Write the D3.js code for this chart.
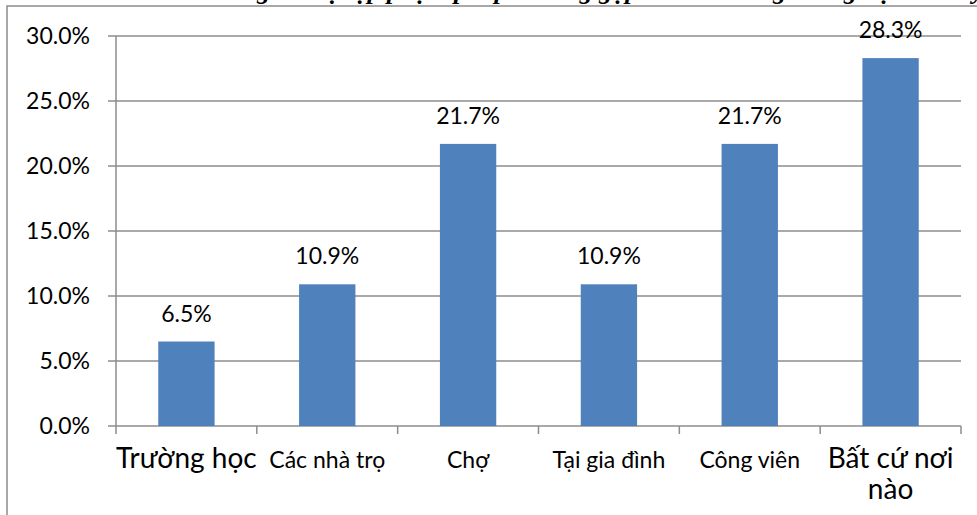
<!DOCTYPE html>
<meta charset="utf-8">
<style>
body { margin: 0; background: #fff; }
svg { display: block; }
.grid line { stroke: #8c8c8c; stroke-width: 1.5; }
.lbl { font-family: Lato, "Open Sans", sans-serif; fill: #000; }
</style>
<body>
<script src="https://cdn.jsdelivr.net/npm/d3@7"></script>
<script>
// chart data
var categories = ["Trường học", "Các nhà trọ", "Chợ", "Tại gia đình", "Công viên", "Bất cứ nơi nào"];
var values = [6.5, 10.9, 21.7, 10.9, 21.7, 28.3];
var yTicks = [0, 5, 10, 15, 20, 25, 30];
// categories whose label was typed larger in the original
var bigLabels = ["Trường học", "Bất cứ nơi nào"];
var titleText = "Biểu đồ: Những nơi tụ tập phạm pháp thường gặp của nhóm người nghiện ma túy";

var W = 977, H = 515;
var margin = {top: 36, right: 16, bottom: 89, left: 116},
    width = W - margin.left - margin.right,
    height = H - margin.top - margin.bottom;

var svg = d3.select("body").append("svg")
    .attr("width", W)
    .attr("height", H);

// title, mostly cut off above the frame (as in the source image)
svg.append("text")
    .attr("x", 540)
    .attr("y", -1)
    .attr("text-anchor", "middle")
    .style("font-family", "Liberation Serif, serif")
    .style("font-weight", "bold")
    .style("font-style", "italic")
    .style("font-size", "26px")
    .text(titleText);

// outer chart frame (left and top edges show)
svg.append("path")
    .attr("d", "M7," + H + "V6H" + W)
    .attr("fill", "none")
    .attr("stroke", "#8c8c8c")
    .attr("stroke-width", 1.5);

var g = svg.append("g")
    .attr("transform", "translate(" + margin.left + "," + margin.top + ")");

var x = d3.scaleBand()
    .domain(categories)
    .range([0, width])
    .paddingInner(0.6)
    .paddingOuter(0.3);

var y = d3.scaleLinear()
    .domain([0, 30])
    .range([height, 0]);

// category boundaries for x ticks
var xb = d3.scaleLinear().domain([0, categories.length]).range([0, width]);

// gridlines + y labels
var grid = g.append("g").attr("class", "grid");
grid.selectAll("line")
    .data(yTicks)
  .enter().append("line")
    .attr("x1", -8)
    .attr("x2", width)
    .attr("y1", function(d) { return y(d); })
    .attr("y2", function(d) { return y(d); });

g.selectAll(".ylbl")
    .data(yTicks)
  .enter().append("text")
    .attr("class", "lbl ylbl")
    .attr("x", -26)
    .attr("y", function(d) { return y(d); })
    .attr("dy", "0.36em")
    .attr("text-anchor", "end")
    .style("font-size", "23px")
    .text(function(d) { return d.toFixed(1) + "%"; });

// y axis line
g.append("line")
    .attr("x1", 0).attr("x2", 0)
    .attr("y1", 0).attr("y2", height)
    .attr("stroke", "#8c8c8c")
    .attr("stroke-width", 1.5);

// x ticks
g.selectAll(".xtick")
    .data(d3.range(categories.length + 1))
  .enter().append("line")
    .attr("class", "xtick")
    .attr("x1", function(d) { return xb(d); })
    .attr("x2", function(d) { return xb(d); })
    .attr("y1", height)
    .attr("y2", height + 8)
    .attr("stroke", "#8c8c8c")
    .attr("stroke-width", 1.5);

// bars
g.selectAll(".bar")
    .data(values)
  .enter().append("rect")
    .attr("class", "bar")
    .attr("x", function(d, i) { return x(categories[i]); })
    .attr("width", x.bandwidth())
    .attr("y", function(d) { return y(d); })
    .attr("height", function(d) { return height - y(d); })
    .attr("fill", "#4f81bd");

// value labels
g.selectAll(".vlbl")
    .data(values)
  .enter().append("text")
    .attr("class", "lbl vlbl")
    .attr("x", function(d, i) { return x(categories[i]) + x.bandwidth() / 2; })
    .attr("y", function(d) { return y(d) - 20; })
    .attr("text-anchor", "middle")
    .style("font-size", "23px")
    .text(function(d) { return d.toFixed(1) + "%"; });

// category labels
g.selectAll(".xlbl")
    .data(categories)
  .enter().append("text")
    .attr("class", "lbl xlbl")
    .attr("x", function(d) { return x(d) + x.bandwidth() / 2; })
    .attr("y", height + 42)
    .attr("text-anchor", "middle")
    .style("font-size", function(d) { return bigLabels.indexOf(d) >= 0 ? "28px" : "23px"; })
    .each(function(d) {
      var t = d3.select(this);
      if (d === "Bất cứ nơi nào") {
        t.append("tspan").attr("x", x(d) + x.bandwidth() / 2).text("Bất cứ nơi");
        t.append("tspan").attr("x", x(d) + x.bandwidth() / 2).attr("dy", 31).text("nào");
      } else {
        t.text(d);
      }
    });
</script>
</body>
